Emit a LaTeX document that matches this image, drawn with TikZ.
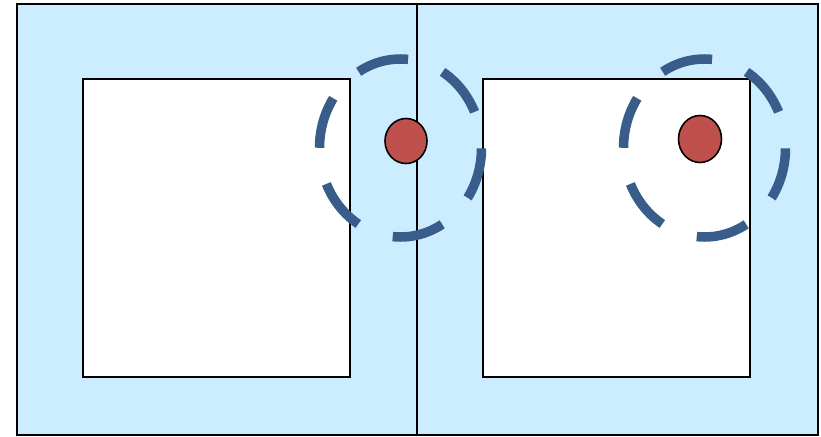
\documentclass[tikz,border=0pt]{standalone}
\usepackage{xcolor}
\usepackage{tikz}
\usetikzlibrary{shapes.geometric}
\definecolor{pnFill}{HTML}{CCECFF}
\definecolor{pnRing}{HTML}{385D8A}
\definecolor{pnDot}{HTML}{C0504D}

\begin{document}
\begin{tikzpicture}[
    x=1pt,y=-1pt,
    panel/.style={draw=black,line width=1.8pt,fill=pnFill,rectangle,inner sep=0pt},
    hole/.style={draw=black,line width=1.8pt,fill=white,rectangle,inner sep=0pt,
                 minimum width=267pt,minimum height=298pt},
    ring/.style={draw=pnRing,line width=9.5pt,ellipse,inner sep=0pt,
                 minimum width=162pt,minimum height=178pt,
                 dash pattern=on 52pt off 37pt,dash phase=52pt},
    dot/.style={draw=black,line width=1.6pt,fill=pnDot,ellipse,inner sep=0pt}
  ]
    \useasboundingbox (0,0) rectangle (821,436);

    \node[panel,minimum width=400pt,minimum height=431pt] (left)  at (217,219.5) {};
    \node[panel,minimum width=401pt,minimum height=431pt] (right) at (617.5,219.5) {};

    \node[hole] (leftsq)  at (216.5,228) {};
    \node[hole] (rightsq) at (616.5,228) {};

    \node[ring] (leftring)  at (400.5,148) {};
    \node[ring] (rightring) at (704.5,148) {};

    \node[dot,minimum width=42pt,minimum height=45pt] (leftdot)  at (406,141) {};
    \node[dot,minimum width=43pt,minimum height=47pt] (rightdot) at (700,139) {};
  \end{tikzpicture}
\end{document}
